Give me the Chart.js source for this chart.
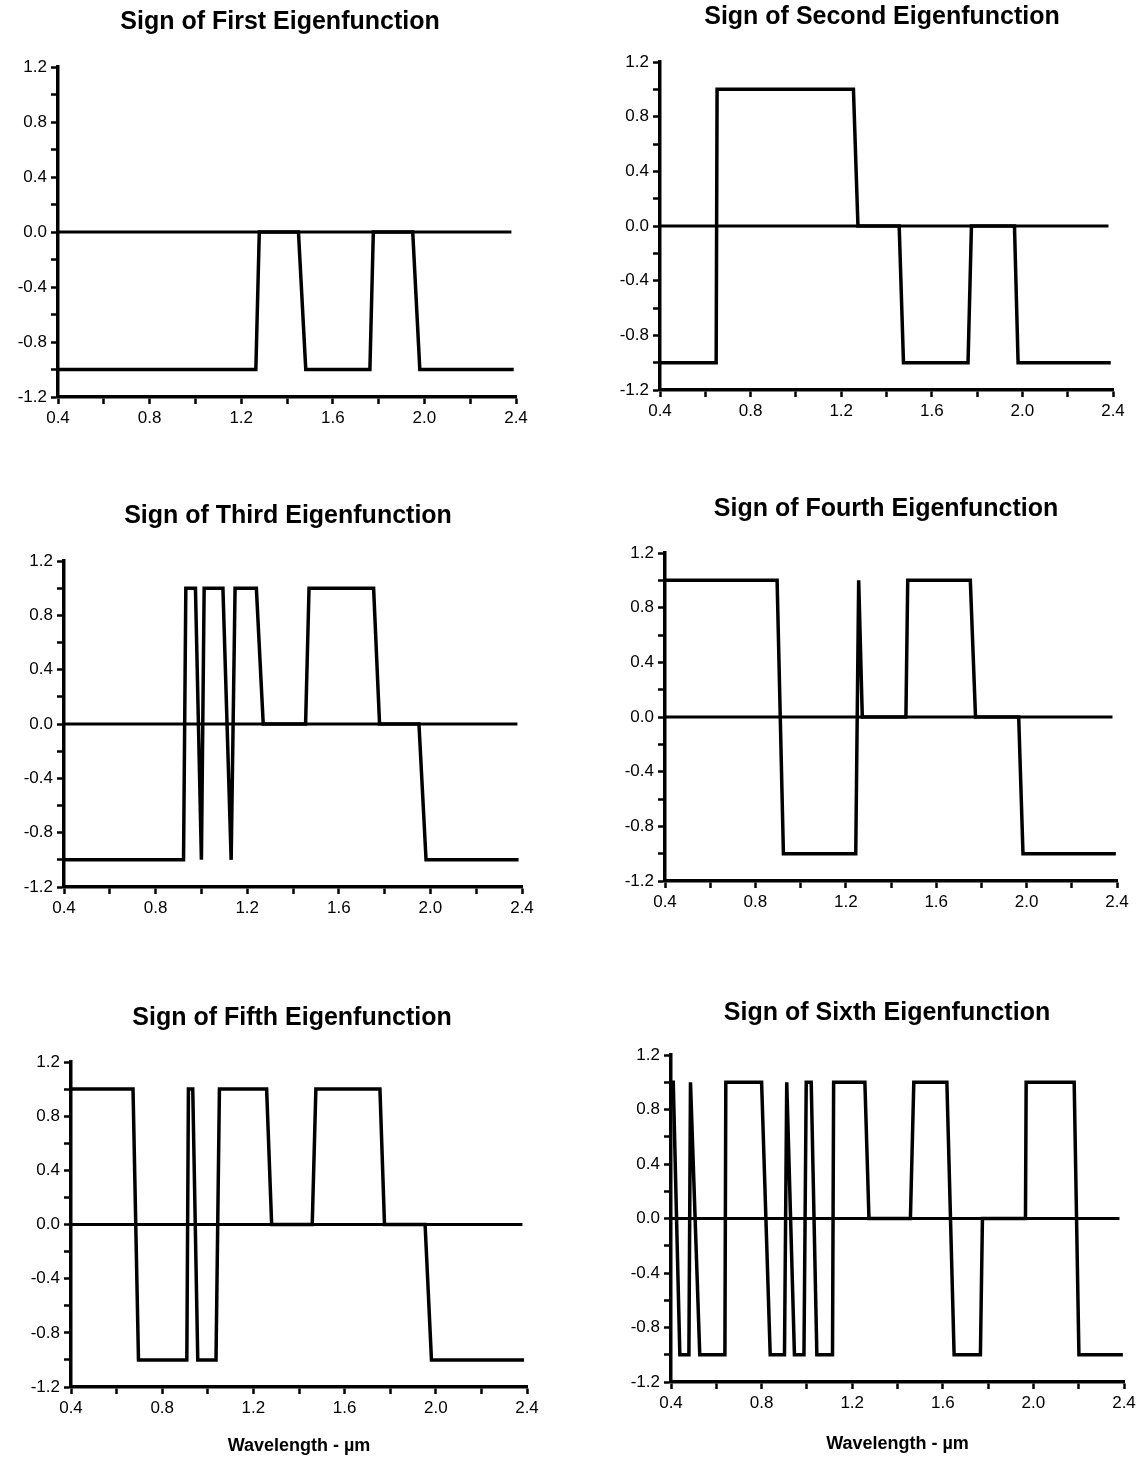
<!DOCTYPE html>
<html>
<head>
<meta charset="utf-8">
<script src="https://cdn.jsdelivr.net/npm/chart.js@4.4.1/dist/chart.umd.min.js"></script>
<style>
  html, body { margin: 0; padding: 0; background: #fff; overflow: hidden; width: 1148px; height: 1459px; }
  canvas { position: absolute; }
</style>
</head>
<body>
<script>
// breakpoints of each sign curve: wavelength (um) and sign value
var firstX  = [0.4, 1.264, 1.279, 1.45, 1.482, 1.762, 1.777, 1.949, 1.98, 2.39];
var firstY  = [-1, -1, 0, 0, -1, -1, 0, 0, -1, -1];

var secondX = [0.4, 0.648, 0.652, 1.254, 1.274, 1.456, 1.475, 1.76, 1.775, 1.965, 1.981, 2.39];
var secondY = [-1, -1, 1, 1, 0, 0, -1, -1, 0, 0, -1, -1];

var thirdX  = [0.4, 0.922, 0.932, 0.974, 1.0, 1.012, 1.094, 1.13, 1.147, 1.24, 1.27, 1.455, 1.47, 1.752, 1.778, 1.95, 1.981, 2.385];
var thirdY  = [-1, -1, 1, 1, -1, 1, 1, -1, 1, 1, 0, 0, 1, 1, 0, 0, -1, -1];

var fourthX = [0.4, 0.896, 0.924, 1.244, 1.257, 1.273, 1.466, 1.474, 1.751, 1.774, 1.965, 1.984, 2.395];
var fourthY = [1, 1, -1, -1, 1, 0, 0, 1, 1, 0, 0, -1, -1];

var fifthX  = [0.4, 0.672, 0.696, 0.908, 0.915, 0.934, 0.956, 1.036, 1.051, 1.258, 1.28, 1.458, 1.474, 1.755, 1.775, 1.953, 1.981, 2.387];
var fifthY  = [1, 1, -1, -1, 1, 1, -1, -1, 1, 1, 0, 0, 1, 1, 0, 0, -1, -1];

var sixthX  = [0.4, 0.41, 0.439, 0.479, 0.486, 0.527, 0.638, 0.642, 0.8, 0.838, 0.901, 0.911, 0.945, 0.987, 0.997, 1.019, 1.044, 1.113, 1.118, 1.256, 1.274, 1.457, 1.472, 1.618, 1.65, 1.766, 1.775, 1.965, 1.968, 2.18, 2.201, 2.395];
var sixthY  = [1, 1, -1, -1, 1, -1, -1, 1, 1, -1, -1, 1, -1, -1, 1, 1, -1, -1, 1, 1, 0, 0, 1, 1, -1, -1, 0, 0, 1, 1, -1, -1];

// reference line at zero
var zeroX = [0.4, 2.38];
var zeroY = [0, 0];

var titles = ["Sign of First Eigenfunction", "Sign of Second Eigenfunction",
              "Sign of Third Eigenfunction", "Sign of Fourth Eigenfunction",
              "Sign of Fifth Eigenfunction", "Sign of Sixth Eigenfunction"];
var xTickLabels = [0.4, 0.8, 1.2, 1.6, 2.0, 2.4];
var yTickLabels = [-1.2, -0.8, -0.4, 0.0, 0.4, 0.8, 1.2];
var xTitle = "Wavelength - \u00b5m";

var seriesX = [firstX, secondX, thirdX, fourthX, fifthX, sixthX];
var seriesY = [firstY, secondY, thirdY, fourthY, fifthY, sixthY];

// plot frame of each panel on the page (x0..x1, y0..y1), title centre, x-label centre
var panels = [
  {x0: 58,  x1: 516,  y0: 67,   y1: 397,  tx: 280, ty: 22},
  {x0: 660, x1: 1113, y0: 62,   y1: 390,  tx: 882, ty: 17},
  {x0: 64,  x1: 522,  y0: 561,  y1: 887,  tx: 288, ty: 516},
  {x0: 665, x1: 1117, y0: 553,  y1: 881,  tx: 886, ty: 509},
  {x0: 71,  x1: 527,  y0: 1062, y1: 1387, tx: 292, ty: 1018, lx: 1446},
  {x0: 671, x1: 1124, y0: 1055, y1: 1382, tx: 887, ty: 1013, lx: 1444}
];

var YW = 56;          // y axis box width
var TITLE_SIZE = 25;
var FONT = "'Liberation Sans', Arial, sans-serif";

function points(xs, ys) {
  return xs.map(function (x, i) { return {x: x, y: ys[i]}; });
}

function hasLabel(list, v) {
  return list.some(function (t) { return Math.abs(t - v) < 1e-6; });
}

function makePanel(i) {
  var p = panels[i];
  var withX = p.lx !== undefined;
  var xh = withX ? 74 : 34;
  var lineH = TITLE_SIZE * 1.2;
  var cl = p.x0 - YW;
  var cw = 2 * (p.tx - cl);
  var ct = p.ty - 20;
  var ch = p.y1 - ct + xh;
  var pr = cl + cw - p.x1;

  var canvas = document.createElement("canvas");
  canvas.width = cw;
  canvas.height = ch;
  canvas.style.left = cl + "px";
  canvas.style.top = ct + "px";
  canvas.style.width = cw + "px";
  canvas.style.height = ch + "px";
  document.body.appendChild(canvas);

  var tickFont = {family: FONT, size: 17};

  new Chart(canvas, {
    type: "scatter",
    data: {
      datasets: [{
        data: points(zeroX, zeroY),
        showLine: true,
        borderColor: "#000",
        borderWidth: 3,
        pointRadius: 0
      }, {
        data: points(seriesX[i], seriesY[i]),
        showLine: true,
        borderColor: "#000",
        borderWidth: 3.5,
        borderJoinStyle: "miter",
        pointRadius: 0,
        tension: 0
      }]
    },
    options: {
      responsive: false,
      animation: false,
      layout: {padding: 0},
      plugins: {
        legend: {display: false},
        tooltip: {enabled: false},
        title: {
          display: true,
          text: titles[i],
          color: "#000",
          font: {family: FONT, size: TITLE_SIZE, weight: "bold"},
          padding: {top: 20 - lineH / 2, bottom: p.y0 - p.ty - lineH / 2}
        }
      },
      scales: {
        x: {
          type: "linear",
          min: 0.4,
          max: 2.4,
          afterFit: function (scale) {
            scale.height = xh;
            scale.paddingLeft = 0;
            scale.paddingRight = pr;
          },
          border: {display: true, color: "#000", width: 3.5},
          grid: {drawOnChartArea: false, drawTicks: true, tickLength: 7, tickWidth: 2.5, tickColor: "#000"},
          ticks: {
            stepSize: 0.2,
            autoSkip: false,
            maxRotation: 0,
            padding: 4,
            color: "#000",
            font: tickFont,
            callback: function (v) { return hasLabel(xTickLabels, v) ? v.toFixed(1) : ""; }
          },
          title: {
            display: withX,
            text: xTitle,
            color: "#000",
            font: {family: FONT, size: 18, weight: "bold"},
            padding: {top: 0, bottom: withX ? (p.y1 + xh - p.lx - 10.8) : 0}
          }
        },
        y: {
          type: "linear",
          min: -1.2,
          max: 1.2,
          afterFit: function (scale) { scale.width = YW; },
          border: {display: true, color: "#000", width: 3.5},
          grid: {drawOnChartArea: false, drawTicks: true, tickLength: 7, tickWidth: 2.5, tickColor: "#000"},
          ticks: {
            stepSize: 0.2,
            autoSkip: false,
            padding: 4,
            color: "#000",
            font: tickFont,
            callback: function (v) {
              if (!hasLabel(yTickLabels, v)) return "";
              return Math.abs(v) < 1e-9 ? "0.0" : v.toFixed(1);
            }
          }
        }
      }
    }
  });
}

for (var k = 0; k < panels.length; k++) makePanel(k);
</script>
</body>
</html>
